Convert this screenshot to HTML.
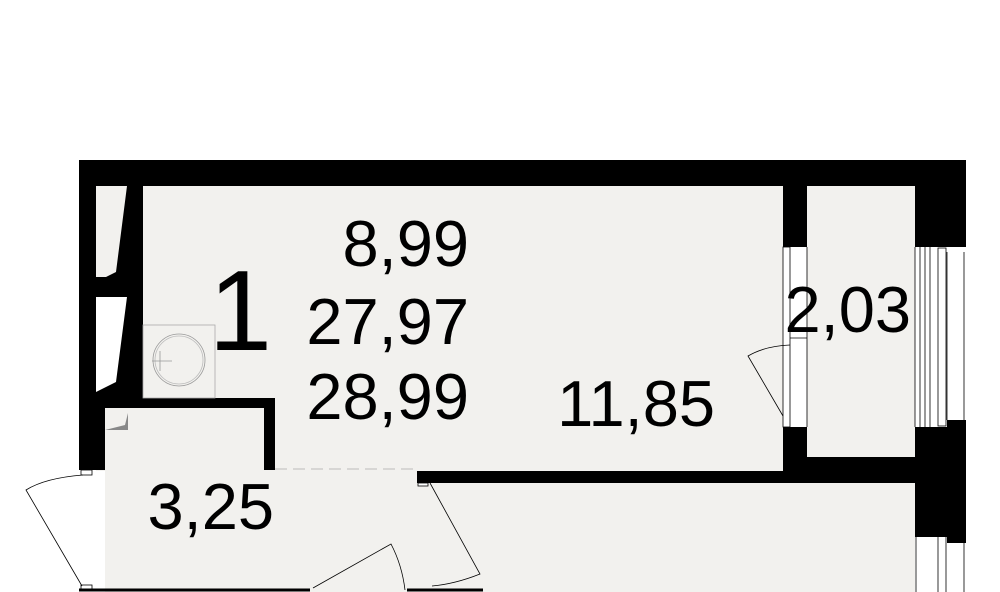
<!DOCTYPE html>
<html><head><meta charset="utf-8"><style>
html,body{margin:0;padding:0;background:#fff;width:1000px;height:592px;overflow:hidden}
text{font-family:"Liberation Sans",sans-serif;fill:#000}
</style></head><body>
<svg width="1000" height="592" viewBox="0 0 1000 592" xmlns="http://www.w3.org/2000/svg">
<rect x="96" y="186" width="687" height="285" fill="#f2f1ee"/>
<rect x="807" y="186" width="108" height="271" fill="#f2f1ee"/>
<rect x="105" y="470" width="810" height="122" fill="#f2f1ee"/>
<polygon points="96,186 127,186 116,272 96,282" fill="#f2f1ee"/>
<polygon points="96,297 127,297 116,382 96,392" fill="#fff"/>
<rect x="96" y="277" width="47" height="20" fill="#000"/>
<polygon points="116,272 127,186 143,186 143,297 96,297 96,282" fill="#000"/>
<polygon points="116,382 127,297 143,297 143,398 96,398 96,392" fill="#000"/>
<rect x="79" y="160" width="887" height="26" fill="#000"/>
<rect x="79" y="160" width="17" height="310" fill="#000"/>
<rect x="79" y="392" width="26" height="78" fill="#000"/>
<rect x="96" y="398" width="179" height="10" fill="#000"/>
<rect x="264" y="398" width="11" height="72" fill="#000"/>
<polygon points="105,430 128,430 128,413 125,425 105,430" fill="#888"/>
<rect x="417" y="471" width="498" height="12" fill="#000"/>
<rect x="783" y="186" width="24" height="61" fill="#000"/>
<rect x="783" y="427" width="24" height="56" fill="#000"/>
<rect x="807" y="457" width="108" height="26" fill="#000"/>
<rect x="915" y="160" width="51" height="87" fill="#000"/>
<rect x="915" y="427" width="32" height="110" fill="#000"/>
<rect x="947" y="420" width="19" height="123" fill="#000"/>
<g stroke="#000" stroke-width="0.8" fill="none">
<line x1="915" y1="247" x2="915" y2="427"/><line x1="920" y1="247" x2="920" y2="427"/>
<line x1="925" y1="247" x2="925" y2="427"/><line x1="930" y1="247" x2="930" y2="427"/>
<rect x="938" y="248" width="8" height="178"/><line x1="947" y1="252" x2="947" y2="420"/>
<line x1="964" y1="252" x2="964" y2="420"/>
<line x1="916" y1="537" x2="916" y2="592"/><line x1="938" y1="537" x2="938" y2="592"/>
<line x1="946" y1="537" x2="946" y2="592"/><line x1="964" y1="543" x2="964" y2="592"/>
<rect x="783" y="247" width="7" height="180"/><line x1="807" y1="247" x2="807" y2="427"/>
<line x1="790" y1="338" x2="807" y2="338"/>
<path d="M790,345 Q765,346 748,356 L783,416"/>
<line x1="275" y1="469" x2="417" y2="469" stroke="#aaa" stroke-dasharray="12,6"/>
<rect x="81" y="470" width="11" height="5" fill="#fff"/>
<rect x="81" y="585" width="11" height="5" fill="#fff"/>
<path d="M83,475 Q45,478 26,490 L82,586"/>
<path d="M430,483 L480,574 Q455,584 432,586"/>
<rect x="418" y="483" width="10" height="3" fill="#fff"/>
<path d="M313,588 L391,544 Q402,565 405,590"/>
<rect x="143" y="325" width="72" height="73" stroke="#aaa" fill="none"/>
<circle cx="179" cy="360" r="26" stroke="#999"/><circle cx="179" cy="360" r="24" stroke="#bbb"/>
<line x1="152" y1="361" x2="172" y2="361" stroke="#999"/><line x1="160" y1="351" x2="160" y2="371" stroke="#999"/>
</g>
<line x1="79" y1="590" x2="310" y2="590" stroke="#000" stroke-width="3"/>
<line x1="407" y1="590" x2="483" y2="590" stroke="#000" stroke-width="3"/>
<text x="469" y="266" font-size="65" text-anchor="end">8,99</text>
<text x="469" y="344" font-size="65" text-anchor="end">27,97</text>
<text x="469" y="419" font-size="65" text-anchor="end">28,99</text>
<text x="272" y="350" font-size="114" text-anchor="end">1</text>
<text x="715" y="426" font-size="65" text-anchor="end">11,85</text>
<text x="911" y="332" font-size="65" text-anchor="end">2,03</text>
<text x="274" y="529" font-size="65" text-anchor="end">3,25</text>
</svg>
</body></html>
